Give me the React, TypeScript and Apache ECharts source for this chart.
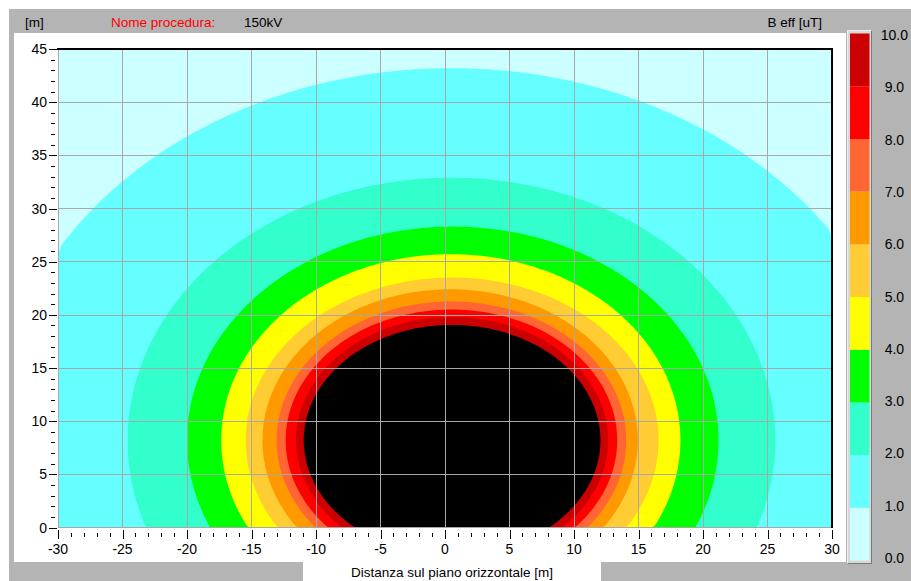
import React, { useEffect, useRef } from "react";
import * as echarts from "echarts";

// Contour levels (B eff in uT) and their boundaries
const LEVELS = [1, 2, 3, 4, 5, 6, 7, 8, 9, 10];
const LEVEL_CX = [0.5, 0.5, 0.6, 0.45, 0.55, 0.4, 0.5, 0.5, 0.55, 0.55];
const LEVEL_RX = [35.5, 25.1, 20.6, 17.8, 16.0, 14.55, 13.55, 12.85, 12.1, 11.5];
const LEVEL_TOP = [43.2, 32.9, 28.3, 25.7, 23.5, 22.4, 21.25, 20.5, 19.8, 19.05];
const CENTER_Y = 8.2;

// Colour of each band [k, k+1], and the colour above the last level
const BAND_COLORS = ["#ccffff", "#66ffff", "#33ffcc", "#00ff00", "#ffff00", "#ffcc33", "#ff9900", "#ff6633", "#ff0000", "#cc0000"];
const TOP_COLOR = "#000000";

// Axis ticks
const X_TICKS = [-30, -25, -20, -15, -10, -5, 0, 5, 10, 15, 20, 25, 30];
const Y_TICKS = [0, 5, 10, 15, 20, 25, 30, 35, 40, 45];
const MINOR_PER_MAJOR = 5;

const X_MIN = -30, X_MAX = 30, X_STEP = 5;
const Y_MIN = 0, Y_MAX = 45, Y_STEP = 5;
const SCALE_MIN = 0, SCALE_MAX = 10;

const FONT = '"Liberation Sans", Arial, sans-serif';

export default function App() {
  const ref = useRef<HTMLDivElement>(null);
  useEffect(() => {
    document.body.style.margin = "0";
    const chart = echarts.init(ref.current!, null, { renderer: "svg" });

    const contourData = LEVELS.map((lv, i) => [LEVEL_CX[i], CENTER_Y, i]);

    const renderContour = (params: any, api: any) => {
      const i = api.value(2);
      const cx = LEVEL_CX[i];
      const rx = LEVEL_RX[i];
      const ry = LEVEL_TOP[i] - CENTER_Y;
      const pts: number[][] = [];
      const N = 240;
      for (let k = 0; k < N; k++) {
        const a = (k / N) * Math.PI * 2;
        let x = cx + rx * Math.cos(a);
        let y = CENTER_Y + ry * Math.sin(a);
        x = Math.max(X_MIN, Math.min(X_MAX, x));
        y = Math.max(Y_MIN, Math.min(Y_MAX, y));
        pts.push(api.coord([x, y]));
      }
      const fill = i + 1 < BAND_COLORS.length ? BAND_COLORS[i + 1] : TOP_COLOR;
      return { type: "polygon", z2: i, shape: { points: pts }, style: { fill, stroke: null } };
    };

    const renderTicks = (params: any, api: any) => {
      const children: any[] = [];
      const line = (x1: number, y1: number, x2: number, y2: number) =>
        children.push({ type: "line", shape: { x1, y1, x2, y2 }, style: { stroke: "#000", lineWidth: 1 } });
      const axisY = Math.round(api.coord([X_MIN, Y_MIN])[1]);
      const axisX = Math.round(api.coord([X_MIN, Y_MIN])[0]);
      // x axis ticks
      for (let j = 0; j < X_TICKS.length; j++) {
        const px = Math.round(api.coord([X_TICKS[j], Y_MIN])[0]) + 0.5;
        line(px, axisY + 2, px, axisY + 11);
        if (j < X_TICKS.length - 1) {
          const step = (X_TICKS[j + 1] - X_TICKS[j]) / MINOR_PER_MAJOR;
          for (let m = 1; m < MINOR_PER_MAJOR; m++) {
            const mx = Math.round(api.coord([X_TICKS[j] + m * step, Y_MIN])[0]) + 0.5;
            line(mx, axisY + 5, mx, axisY + 9);
          }
        }
      }
      // y axis ticks
      for (let j = 0; j < Y_TICKS.length; j++) {
        const py = Math.round(api.coord([X_MIN, Y_TICKS[j]])[1]) + 0.5;
        line(axisX - 9, py, axisX - 1, py);
        if (j < Y_TICKS.length - 1) {
          const step = (Y_TICKS[j + 1] - Y_TICKS[j]) / MINOR_PER_MAJOR;
          for (let m = 1; m < MINOR_PER_MAJOR; m++) {
            const my = Math.round(api.coord([X_MIN, Y_TICKS[j] + m * step])[1]) + 0.5;
            line(axisX - 7, my, axisX - 3, my);
          }
        }
      }
      return { type: "group", children };
    };

    const barSeries = BAND_COLORS.map((c) => ({
      type: "bar",
      xAxisIndex: 2,
      yAxisIndex: 2,
      stack: "scale",
      barWidth: "100%",
      data: [1],
      itemStyle: { color: c },
      silent: true,
    }));

    const option: any = {
      animation: false,
      backgroundColor: "transparent",
      textStyle: { fontFamily: FONT },
      grid: [
        { left: 58, top: 49, width: 774, height: 478.5, show: true, backgroundColor: BAND_COLORS[0], borderWidth: 0 },
        { left: 850, top: 35, width: 19.5, height: 523 },
        { left: 850, top: 33.5, width: 19.5, height: 527 },
      ],
      xAxis: [
        {
          gridIndex: 0, type: "value", position: "bottom", min: X_MIN, max: X_MAX, interval: X_STEP, z: 10,
          axisLine: { show: false, onZero: false },
          axisTick: { show: false },
          axisLabel: { color: "#000", fontSize: 14, margin: 14, fontFamily: FONT },
          splitLine: { show: true, lineStyle: { color: "#a8a8a8", width: 1 } },
        },
        { gridIndex: 1, type: "category", data: [""], show: false },
        { gridIndex: 2, type: "category", data: [""], show: false },
      ],
      yAxis: [
        {
          gridIndex: 0, type: "value", position: "left", min: Y_MIN, max: Y_MAX, interval: Y_STEP, z: 10,
          axisLine: { show: false, onZero: false },
          axisTick: { show: false },
          axisLabel: { color: "#000", fontSize: 14, margin: 11, fontFamily: FONT },
          splitLine: { show: true, lineStyle: { color: "#a8a8a8", width: 1 } },
        },
        {
          gridIndex: 1, type: "value", position: "right", min: SCALE_MIN, max: SCALE_MAX, interval: 1,
          axisLine: { show: false, onZero: false }, axisTick: { show: false }, splitLine: { show: false },
          axisLabel: { color: "#000", fontSize: 14, margin: 25, align: "center", fontFamily: FONT, formatter: (v: number) => v.toFixed(1) },
        },
        {
          gridIndex: 2, type: "value", min: SCALE_MIN, max: SCALE_MAX, show: false,
        },
      ],
      series: [
        {
          type: "custom",
          xAxisIndex: 0,
          yAxisIndex: 0,
          clip: true,
          silent: true,
          z: 2,
          renderItem: renderContour,
          data: contourData,
        },
        {
          type: "custom",
          xAxisIndex: 0,
          yAxisIndex: 0,
          clip: false,
          silent: true,
          z: 12,
          renderItem: renderTicks,
          data: [[X_MIN, Y_MIN]],
        },
        ...barSeries,
      ],
      graphic: [
        { type: "text", z: 20, x: 25, y: 22, style: { text: "[m]", fill: "#000", fontSize: 13.5, fontFamily: FONT, verticalAlign: "middle" } },
        { type: "text", z: 20, x: 111, y: 22, style: { text: "Nome procedura:", fill: "#ff0000", fontSize: 13.5, fontFamily: FONT, verticalAlign: "middle" } },
        { type: "text", z: 20, x: 244, y: 22, style: { text: "150kV", fill: "#000", fontSize: 13.5, fontFamily: FONT, verticalAlign: "middle" } },
        { type: "text", z: 20, x: 822, y: 22, style: { text: "B eff [uT]", fill: "#000", fontSize: 13.5, fontFamily: FONT, align: "right", verticalAlign: "middle" } },
        { type: "text", z: 20, x: 452, y: 572, style: { text: "Distanza sul piano orizzontale [m]", fill: "#000", fontSize: 13.5, fontFamily: FONT, align: "center", verticalAlign: "middle" } },
      ],
    };
    chart.setOption(option);
    return () => chart.dispose();
  }, []);

  const abs = (x: number, y: number, w: number, h: number, extra: any = {}) => ({
    position: "absolute" as const, left: x, top: y, width: w, height: h, boxSizing: "border-box" as const, ...extra,
  });

  return (
    <div style={{ position: "relative", width: 911, height: 581, background: "#ffffff", overflow: "hidden" }}>
      <div style={abs(9, 9, 902, 572, { background: "#b4b4b4" })} />
      <div style={abs(14, 33, 832, 529, { background: "#ffffff" })} />
      <div style={abs(303, 562, 298, 19, { background: "#ffffff" })} />
      <div style={abs(847, 30, 25, 534, { background: "#d8d8d8", borderTop: "1px solid #eeeeee", borderLeft: "1px solid #eeeeee", borderRight: "1px solid #7a7a7a", borderBottom: "1px solid #7a7a7a" })} />
      <div ref={ref} style={{ position: "absolute", left: 0, top: 0, width: 911, height: 581 }} />
      <div style={abs(57, 48, 776, 2, { background: "#000000", pointerEvents: "none" })} />
      <div style={abs(831, 48, 2, 480, { background: "#000000", pointerEvents: "none" })} />
    </div>
  );
}
